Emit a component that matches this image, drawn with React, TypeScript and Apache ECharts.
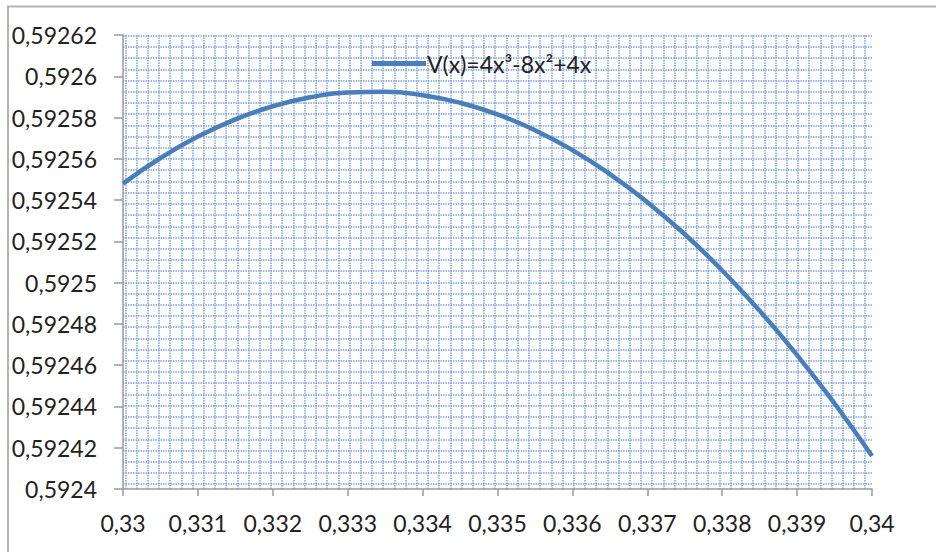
import React, { useEffect, useRef } from "react";
import * as echarts from "echarts";

// x positions and the function values
const xValues = [
  0.33, 0.3305, 0.331, 0.3315, 0.332, 0.3325, 0.333, 0.3335, 0.334, 0.3345, 0.335,
  0.3355, 0.336, 0.3365, 0.337, 0.3375, 0.338, 0.3385, 0.339, 0.3395, 0.34,
];
const vValues = [
  0.592548, 0.592560391, 0.592570764, 0.592579124, 0.592585472, 0.592589813, 0.592592148,
  0.592592482, 0.592590816, 0.592587155, 0.5925815, 0.592573856, 0.592564224, 0.592552609,
  0.592539012, 0.592523438, 0.592505888, 0.592486367, 0.592464876, 0.59244142, 0.592416,
];
const seriesName = "V(x)=4x³-8x²+4x";

// axis ranges
const xMin = 0.33;
const xMax = 0.34;
const xStep = 0.001;
const yMin = 0.5924;
const yMax = 0.59262;
const yStep = 0.00002;

const FONT = "Lato, 'Liberation Sans', sans-serif";
const AXIS_GRAY = "#9a9a9a";
const PATTERN_BLUE = "#7ea6e0";

// plot area in pixels
const PLOT_LEFT = 123;
const PLOT_RIGHT = 872;
const PLOT_TOP = 35;
const PLOT_BOTTOM = 489;
// dotted pattern fill of the plot area
const CELL = 11.21;
const V_CELLS = 66;
const H_CELLS = 40;

const comma = (v: number, digits: number) => String(+v.toFixed(digits)).replace(".", ",");

export default function App() {
  const ref = useRef<HTMLDivElement>(null);

  useEffect(() => {
    if (!ref.current) return;
    const chart = echarts.init(ref.current, null, { renderer: "svg" });

    const patternLine = {
      show: true,
      lineStyle: { color: PATTERN_BLUE, width: 1.5, type: [1.5, 1] as number[] },
    };

    chart.setOption({
      animation: false,
      backgroundColor: "#ffffff",
      textStyle: { fontFamily: FONT },
      graphic: [
        {
          type: "rect",
          shape: { x: 8, y: 6.5, width: 1200, height: 1200 },
          style: { fill: "none", stroke: "#b4b4b4", lineWidth: 2 },
          silent: true,
        },
      ],
      legend: {
        data: [seriesName],
        left: 372,
        top: 52,
        padding: 0,
        icon: "rect",
        itemWidth: 54,
        itemHeight: 5,
        textStyle: { fontFamily: FONT, fontSize: 23, color: "#222", padding: [0, 0, 0, -4] },
      },
      grid: [
        {
          left: PLOT_LEFT,
          top: PLOT_TOP,
          width: PLOT_RIGHT - PLOT_LEFT,
          height: PLOT_BOTTOM - PLOT_TOP,
        },
        // vertical pattern lines
        {
          left: PLOT_LEFT + 2.3,
          top: PLOT_TOP,
          width: CELL * V_CELLS,
          height: PLOT_BOTTOM - PLOT_TOP,
        },
        // horizontal pattern lines
        {
          left: PLOT_LEFT,
          top: PLOT_TOP + 0.7,
          width: PLOT_RIGHT - PLOT_LEFT,
          height: CELL * H_CELLS,
        },
      ],
      xAxis: [
        {
          type: "value",
          gridIndex: 0,
          min: xMin,
          max: xMax,
          interval: xStep,
          z: 5,
          axisLine: { show: true, lineStyle: { color: AXIS_GRAY, width: 1.5 } },
          axisTick: { show: true, inside: false, length: 7, lineStyle: { color: AXIS_GRAY, width: 1.5 } },
          splitLine: { show: false },
          axisLabel: {
            fontFamily: FONT,
            fontSize: 23,
            color: "#222",
            margin: 22,
            showMinLabel: true,
            showMaxLabel: true,
            formatter: (v: number) => comma(v, 3),
          },
        },
        {
          type: "value",
          gridIndex: 1,
          min: 0,
          max: V_CELLS,
          interval: 1,
          axisLine: { show: false },
          axisTick: { show: false },
          axisLabel: { show: false },
          splitLine: patternLine,
        },
        {
          type: "value",
          gridIndex: 2,
          min: 0,
          max: 1,
          show: false,
          splitLine: { show: false },
        },
      ],
      yAxis: [
        {
          type: "value",
          gridIndex: 0,
          min: yMin,
          max: yMax,
          interval: yStep,
          z: 5,
          axisLine: { show: true, lineStyle: { color: AXIS_GRAY, width: 1.5 } },
          axisTick: { show: true, inside: false, length: 9, lineStyle: { color: AXIS_GRAY, width: 1.5 } },
          splitLine: { show: false },
          axisLabel: {
            fontFamily: FONT,
            fontSize: 23,
            color: "#222",
            margin: 26,
            showMinLabel: true,
            showMaxLabel: true,
            formatter: (v: number) => comma(v, 5),
          },
        },
        {
          type: "value",
          gridIndex: 1,
          min: 0,
          max: 1,
          show: false,
          splitLine: { show: false },
        },
        {
          type: "value",
          gridIndex: 2,
          min: 0,
          max: H_CELLS,
          interval: 1,
          inverse: true,
          axisLine: { show: false },
          axisTick: { show: false },
          axisLabel: { show: false },
          splitLine: patternLine,
        },
      ],
      series: [
        {
          name: seriesName,
          type: "line",
          xAxisIndex: 0,
          yAxisIndex: 0,
          data: xValues.map((x, i) => [x, vValues[i]]),
          smooth: true,
          showSymbol: false,
          z: 10,
          lineStyle: { color: "#4a7ebb", width: 4.5 },
          itemStyle: { color: "#4a7ebb" },
        },
      ],
    });
    return () => chart.dispose();
  }, []);

  return (
    <div
      ref={ref}
      style={{ position: "fixed", left: 0, top: 0, width: 936, height: 552, background: "#fff" }}
    />
  );
}
